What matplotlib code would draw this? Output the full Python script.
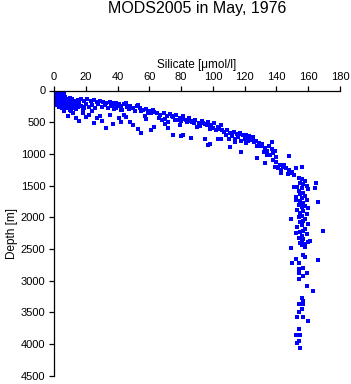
import matplotlib
matplotlib.use("Agg")
import matplotlib.pyplot as plt

# silicate [umol/l] and depth [m], grouped by depth band
si_surface = [0.3, 0.8, 1.2, 1.7, 2.1, 2.6, 3.0, 3.5, 4.0, 4.5, 5.0, 0.5, 1.0, 1.5, 2.0, 2.5,
              3.0, 3.5, 4.0, 4.8, 5.5, 6.0, 0.7, 1.4, 2.2, 2.9, 3.6, 4.3, 5.1, 5.8, 6.5, 7.2,
              0.6, 1.3, 2.0, 2.7, 3.4, 4.1, 4.8, 5.5, 6.2, 6.9, 7.6, 8.3, 9.0, 9.8, 10.5, 11.2,
              1.0, 2.4, 3.8, 5.2, 6.6, 8.0, 9.4, 10.8, 12.2, 13.5, 1.6, 3.0, 4.4, 5.8, 7.2, 8.6,
              2, 4, 6, 8, 10, 12, 14, 3, 5, 7, 9, 11, 13, 15, 17, 19, 6, 10, 14, 18]
d_surface = [0, 5, 0, 10, 5, 0, 15, 5, 10, 20, 25, 30, 35, 25, 40, 45,
             35, 50, 55, 40, 60, 45, 70, 75, 65, 80, 70, 85, 75, 90, 80, 95,
             105, 115, 110, 125, 120, 135, 115, 140, 130, 120, 145, 135, 150, 125, 160, 140,
             165, 170, 160, 175, 165, 180, 170, 185, 175, 160, 195, 200, 190, 205, 195, 210,
             225, 240, 230, 250, 235, 245, 230, 260, 270, 255, 275, 265, 280, 260, 250, 270,
             300, 310, 295, 290]

si_upper = [15, 17, 19, 21, 23, 25, 27, 29, 31, 33, 35, 37, 39, 41, 16, 20, 24, 28, 32, 36, 40,
            18, 22, 26, 30, 34, 38, 42,
            9, 16, 25, 33, 37, 27, 30, 12, 20, 22, 6, 14, 18, 24, 35, 41, 11, 29,
            38, 40, 42, 44, 46, 48, 50, 52, 54, 56, 58, 60, 62, 39, 43, 47, 51, 55, 59, 63, 45, 53, 61,
            42, 48, 53, 55, 61, 63, 45, 58, 50, 44, 57]
d_upper = [150, 130, 160, 140, 170, 150, 180, 160, 175, 190, 185, 200, 195, 210, 200, 215, 225,
           220, 235, 240, 250, 260, 255, 270, 265, 280, 290, 300,
           400, 480, 510, 590, 530, 430, 480, 350, 420, 380, 330, 440, 360, 330, 380, 440, 320, 400,
           230, 210, 250, 220, 260, 240, 270, 250, 280, 300, 290, 320, 310, 280, 300, 290,
           320, 330, 350, 340, 200, 230, 360,
           500, 490, 600, 670, 620, 570, 420, 450, 550, 390, 400]

si_mid = [65, 67, 69, 71, 73, 75, 77, 79, 81, 66, 70, 74, 78, 68, 72, 76, 80,
          72, 75, 79, 81, 70,
          81, 83, 85, 87, 89, 91, 93, 95, 97, 99, 101, 103, 105, 84, 88, 92, 96, 100, 104,
          86, 90, 94, 98, 102, 106,
          80, 86, 95, 98, 103, 105, 97,
          107, 109, 111, 113, 115, 117, 119, 121, 123, 125, 108, 112, 116, 120, 124, 110, 114, 118, 122,
          111, 114, 118, 121]
d_mid = [360, 380, 350, 400, 370, 420, 390, 440, 410, 430, 450, 400, 470, 470, 490, 460, 480,
         590, 700, 545, 700, 530,
         450, 470, 440, 490, 460, 510, 480, 530, 500, 550, 520, 570, 540, 500, 520, 560, 540, 590, 600,
         480, 570, 510, 610, 630, 620,
         720, 750, 760, 840, 760, 760, 860,
         650, 630, 670, 660, 690, 680, 710, 700, 720, 740, 700, 720, 740, 760, 780, 760, 770, 790, 800,
         890, 810, 970, 830]

si_bend = [117, 120, 123, 125, 127, 129, 131, 133, 135, 137, 139, 126, 130, 134, 138, 128, 132, 136, 140,
           118, 128, 133, 137, 134,
           138, 140, 142, 144, 146, 148, 150, 141, 145, 149, 143, 147, 151, 152, 139, 148,
           140, 143, 156, 151]
d_bend = [670, 700, 780, 760, 800, 830, 850, 900, 880, 930, 960, 820, 870, 950, 990, 880, 970, 1020, 1050,
          970, 1070, 1150, 810, 1020,
          1100, 1130, 1170, 1200, 1230, 1250, 1280, 1220, 1180, 1300, 1260, 1310, 1330, 1220, 1200, 1030,
          1200, 1300, 1200, 1520]

si_deep = [154, 156, 158, 155, 157, 159, 153, 156, 160, 154, 157, 155, 158, 152, 156, 159, 155, 157,
           154, 158, 156, 160, 153, 157, 155, 159, 156, 154, 158, 157, 155, 160, 156, 153, 158, 157,
           155, 159, 156, 154, 157, 161, 155, 158, 156,
           164, 165, 166, 169, 149, 152, 152, 149,
           156, 160, 158, 157, 158, 166, 152, 150, 154, 157, 154, 154, 159, 157, 154, 159, 163, 156,
           156, 157, 154, 157, 156, 154, 153, 157, 160, 154, 152, 155, 154, 153, 155]
d_deep = [1380, 1400, 1430, 1460, 1480, 1500, 1520, 1540, 1560, 1590, 1610, 1640, 1660, 1680, 1700,
          1720, 1750, 1780, 1800, 1820, 1840, 1860, 1880, 1900, 1930, 1950, 1980, 2000, 2030, 2060,
          2080, 2100, 2130, 2160, 2190, 2210, 2240, 2270, 2300, 2320, 2350, 2370, 2400, 2420, 2440,
          1540, 1460, 1760, 2220, 2030, 2250, 1730, 2490,
          2390, 2390, 2470, 2590, 2620, 2670, 2660, 2720, 2720, 2800, 2820, 2880, 2880, 2920, 2970,
          3080, 3160, 3270, 3280, 3320, 3370, 3370, 3450, 3490, 3570, 3570, 3640, 3770, 3860, 3860,
          3950, 3980, 4070]

silicate = si_surface + si_upper + si_mid + si_bend + si_deep
depth = d_surface + d_upper + d_mid + d_bend + d_deep

x_ticks = list(range(0, 181, 20))
y_ticks = list(range(0, 4501, 500))

plt.rcParams["font.family"] = ["Liberation Sans", "DejaVu Sans"]

fig = plt.figure(figsize=(3.51, 3.84), dpi=100)
ax = fig.add_axes([54 / 351, 1 - 375.7 / 384, 286 / 351, 285.2 / 384])

ax.scatter(silicate, depth, s=6, marker="s", color="#0000ff", linewidths=0)

ax.set_xlim(0, 180)
ax.set_ylim(4500, 0)
ax.set_xticks(x_ticks)
ax.set_yticks(y_ticks)
ax.xaxis.tick_top()
ax.xaxis.set_label_position("top")
ax.tick_params(axis="both", direction="out", length=3.6, width=0.9, labelsize=8, pad=2.5)
ax.spines["right"].set_visible(False)
ax.spines["bottom"].set_visible(False)
ax.spines["left"].set_linewidth(0.9)
ax.spines["top"].set_linewidth(0.9)
ax.set_xlabel("Silicate [μmol/l]", fontsize=8.5, labelpad=3)
ax.set_ylabel("Depth [m]", fontsize=8.5, labelpad=2)

fig.text(197 / 351, 1 - 9 / 384, "MODS2005 in May, 1976", ha="center", va="center", fontsize=11.5)

fig.savefig("out.png", dpi=100)
